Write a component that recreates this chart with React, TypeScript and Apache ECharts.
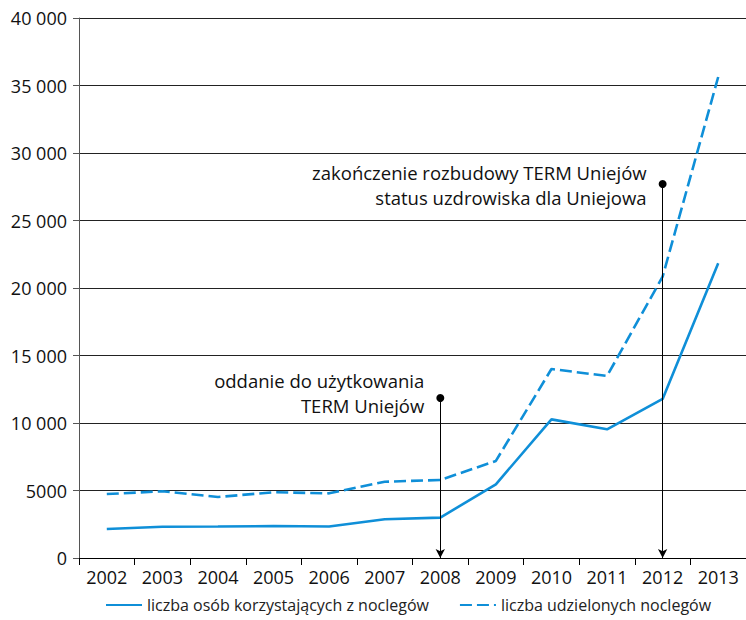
import React, { useEffect, useRef } from "react";
import * as echarts from "echarts";

const years = ["2002", "2003", "2004", "2005", "2006", "2007", "2008", "2009", "2010", "2011", "2012", "2013"];
const guests = [2150, 2320, 2330, 2370, 2330, 2870, 2990, 5460, 10270, 9530, 11780, 21830];
const nights = [4740, 4940, 4520, 4870, 4790, 5650, 5780, 7190, 14000, 13480, 20840, 35630];
const seriesNames = ["liczba osób korzystających z noclegów", "liczba udzielonych noclegów"];
const eventYears = ["2008", "2012"];
const eventTops = [11850, 27700];
const eventTexts = ["oddanie do użytkowania\nTERM Uniejów", "zakończenie rozbudowy TERM Uniejów\nstatus uzdrowiska dla Uniejowa"];

const FONT = "'Open Sans', sans-serif";
const BLUE = "#0f8fd8";
const textDy = [-5, 1];

export default function App() {
  const ref = useRef<HTMLDivElement>(null);
  useEffect(() => {
    if (!ref.current) return;
    const chart = echarts.init(ref.current, null, { renderer: "svg" });
    const markData = eventYears.map((y, i) => [
      { coord: [y, eventTops[i]], symbol: "circle", symbolSize: 8 },
      { coord: [y, 0], symbol: "arrow", symbolSize: [7, 9] },
    ]);
    chart.setOption({
      animation: false,
      textStyle: { fontFamily: FONT },
      grid: { left: 79, right: 0, top: 18, bottom: 62, containLabel: false },
      legend: {
        bottom: 2,
        left: 100,
        itemGap: 30,
        itemWidth: 36,
        itemHeight: 14,
        itemStyle: { opacity: 0, borderWidth: 0 },
        textStyle: { fontFamily: FONT, fontSize: 16, color: "#222" },
        data: seriesNames,
      },
      xAxis: {
        type: "category",
        data: years,
        boundaryGap: true,
        axisLine: { lineStyle: { color: "#000", width: 1 } },
        axisTick: { show: true, length: 7, lineStyle: { color: "#000" } },
        axisLabel: { color: "#111", fontSize: 18, fontFamily: FONT, margin: 10 },
      },
      yAxis: {
        type: "value",
        min: 0,
        max: 40000,
        interval: 5000,
        axisLine: { show: true, lineStyle: { color: "#555", width: 1 } },
        axisTick: { show: true, length: 6, lineStyle: { color: "#555" } },
        splitLine: { show: true, lineStyle: { color: "#222", width: 1 } },
        axisLabel: {
          color: "#111",
          fontSize: 18,
          fontFamily: FONT,
          margin: 12,
          formatter: (v: number) =>
            v >= 10000 ? String(v).replace(/(\d)(?=(\d{3})+$)/g, "$1 ") : String(v),
        },
      },
      series: [
        {
          name: seriesNames[0],
          type: "line",
          data: guests,
          symbol: "none",
          lineStyle: { color: BLUE, width: 2.6 },
          itemStyle: { color: BLUE },
          markLine: {
            silent: true,
            animation: false,
            lineStyle: { color: "#000", width: 1, type: "solid" },
            itemStyle: { color: "#000" },
            label: { show: false },
            data: markData,
          },
        },
        {
          name: seriesNames[1],
          type: "line",
          data: nights,
          symbol: "none",
          lineStyle: { color: BLUE, width: 2.6, type: [12, 5] },
          itemStyle: { color: BLUE },
        },
      ],
    });
    const g = eventYears.map((y, i) => {
      const p = chart.convertToPixel({ gridIndex: 0 }, [y, eventTops[i]]) as number[];
      return {
        type: "text",
        x: p[0] - 16,
        y: p[1] + textDy[i],
        style: {
          text: eventTexts[i],
          align: "right",
          verticalAlign: "middle",
          font: `18.5px ${FONT}`,
          fill: "#111",
          lineHeight: 25,
        },
      };
    });
    chart.setOption({ graphic: g });
    return () => chart.dispose();
  }, []);
  return <div ref={ref} style={{ width: 746, height: 620, position: "absolute", left: 0, top: 0 }} />;
}
